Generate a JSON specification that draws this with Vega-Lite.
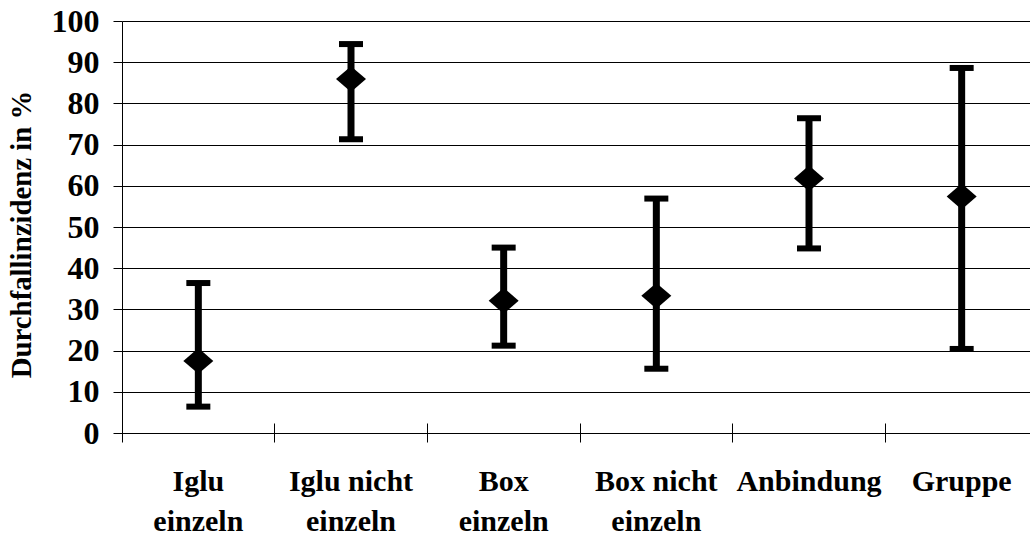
{
  "$schema": "https://vega.github.io/schema/vega-lite/v6.json",
  "autosize": {"type": "none"},
  "padding": {"left": 122, "top": 21, "right": 0, "bottom": 105},
  "width": 916,
  "height": 412,
  "background": "white",
  "config": {
    "view": {"stroke": null},
    "font": "Liberation Serif"
  },
  "data": {
    "values": [
      {"gruppe": "Iglu einzeln", "mittel": 17.5, "unten": 6.4, "oben": 36.4},
      {"gruppe": "Iglu nicht einzeln", "mittel": 85.9, "unten": 71.3, "oben": 94.4},
      {"gruppe": "Box einzeln", "mittel": 32.1, "unten": 21.2, "oben": 45.0},
      {"gruppe": "Box nicht einzeln", "mittel": 33.3, "unten": 15.6, "oben": 56.9},
      {"gruppe": "Anbindung", "mittel": 61.8, "unten": 44.8, "oben": 76.4},
      {"gruppe": "Gruppe", "mittel": 57.4, "unten": 20.4, "oben": 88.6}
    ]
  },
  "encoding": {
    "x": {
      "field": "gruppe",
      "type": "nominal",
      "sort": null,
      "scale": {"paddingInner": 0, "paddingOuter": 0},
      "axis": {
        "title": null,
        "labelAngle": 0,
        "labelFont": "Liberation Serif",
        "labelFontWeight": "bold",
        "labelFontSize": 30,
        "labelColor": "black",
        "labelLineHeight": 40,
        "labelPadding": 24,
        "labelExpr": "indexof(datum.label, ' ') >= 0 ? [substring(datum.label, 0, lastindexof(datum.label, ' ')), substring(datum.label, lastindexof(datum.label, ' ') + 1)] : datum.label",
        "bandPosition": 0,
        "domain": false,
        "offset": -10,
        "tickSize": 19,
        "tickColor": "black",
        "tickWidth": 1,
        "grid": false
      }
    }
  },
  "layer": [
    {
      "mark": {"type": "rule", "strokeWidth": 7, "color": "black", "opacity": 1},
      "encoding": {
        "y": {
          "field": "unten",
          "type": "quantitative",
          "scale": {"domain": [0, 100], "nice": false},
          "axis": {
            "title": "Durchfallinzidenz in %",
            "titleFont": "Liberation Serif",
            "titleFontWeight": "bold",
            "titleFontSize": 28.8,
            "titleColor": "black",
            "titleAngle": -90,
            "titleAlign": "center",
            "titleBaseline": "middle",
            "titleX": -101,
            "titleY": 213,
            "values": [0, 10, 20, 30, 40, 50, 60, 70, 80, 90, 100],
            "labelFont": "Liberation Serif",
            "labelFontWeight": "bold",
            "labelFontSize": 32,
            "labelColor": "black",
            "labelPadding": 14,
            "tickSize": 9,
            "tickColor": "black",
            "domainColor": "black",
            "domainWidth": 1,
            "grid": true,
            "gridColor": "black",
            "gridWidth": 1,
            "gridOpacity": 1
          }
        },
        "y2": {"field": "oben"}
      }
    },
    {
      "mark": {"type": "tick", "thickness": 6, "size": 24, "color": "black", "opacity": 1, "orient": "horizontal"},
      "encoding": {"y": {"field": "oben", "type": "quantitative"}}
    },
    {
      "mark": {"type": "tick", "thickness": 6, "size": 24, "color": "black", "opacity": 1, "orient": "horizontal"},
      "encoding": {"y": {"field": "unten", "type": "quantitative"}}
    },
    {
      "mark": {"type": "point", "filled": true, "opacity": 1, "color": "black", "shape": "M-1,0L0,-0.86L1,0L0,0.86Z", "size": 900},
      "encoding": {"y": {"field": "mittel", "type": "quantitative"}}
    }
  ]
}
